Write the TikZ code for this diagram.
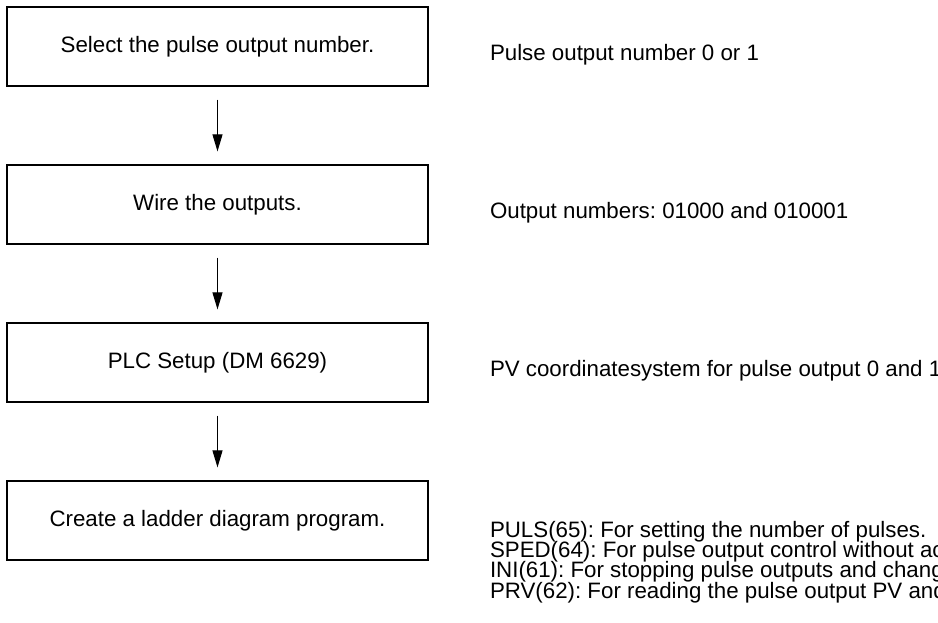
\documentclass[tikz,border=0pt]{standalone}
\usepackage{fontspec}
\setmainfont{Liberation Sans}
\usetikzlibrary{positioning,arrows.meta}
\newcommand\flowfont{\fontsize{11.15}{10.17}\selectfont\frenchspacing\setlength{\lineskiplimit}{-10pt}}
\begin{document}
\begin{tikzpicture}[x=0.5pt, y=0.5pt,
  font=\flowfont,
  stepbox/.style={draw, line width=0.6pt, minimum width=210.5pt, minimum height=39.5pt, inner sep=0pt},
  note/.style={anchor=base west, inner sep=0pt, align=left},
  flow/.style={line width=0.5pt, -{Triangle[length=8.5pt, width=5pt]}, shorten <=6.5pt, shorten >=6.5pt},
  node distance=38.9pt]
  \clip[use as bounding box] (0,0) rectangle (938,622);
  % steps
  \node[stepbox] (select) at (217.5,575.5) {Select the pulse output number.};
  \node[stepbox, below=of select] (wire) {Wire the outputs.};
  \node[stepbox, below=of wire] (setup) {PLC Setup (DM 6629)};
  \node[stepbox, below=of setup] (ladder) {Create a ladder diagram program.};
  \draw[flow] (select) -- (wire);
  \draw[flow] (wire) -- (setup);
  \draw[flow] (setup) -- (ladder);
  % notes
  \node[note] (n1) at ([xshift=30.5pt, yshift=-7.25pt]select.east) {Pulse output number 0 or 1};
  \node[note] (n2) at ([xshift=30.5pt, yshift=-7.25pt]wire.east) {Output numbers: 01000 and 010001};
  \node[note] (n3) at ([xshift=30.5pt, yshift=-7.25pt]setup.east) {PV coordinatesystem for pulse output 0 and 1};
  % base of a multi-line node is its last line
  \node[note] (n4) at ([xshift=30.5pt, yshift=-38.8pt]ladder.east) {PULS(65): For setting the number of pulses.\\
    SPED(64): For pulse output control without ac\\
    INI(61): For stopping pulse outputs and chang\\
    PRV(62): For reading the pulse output PV and};
\end{tikzpicture}
\end{document}
